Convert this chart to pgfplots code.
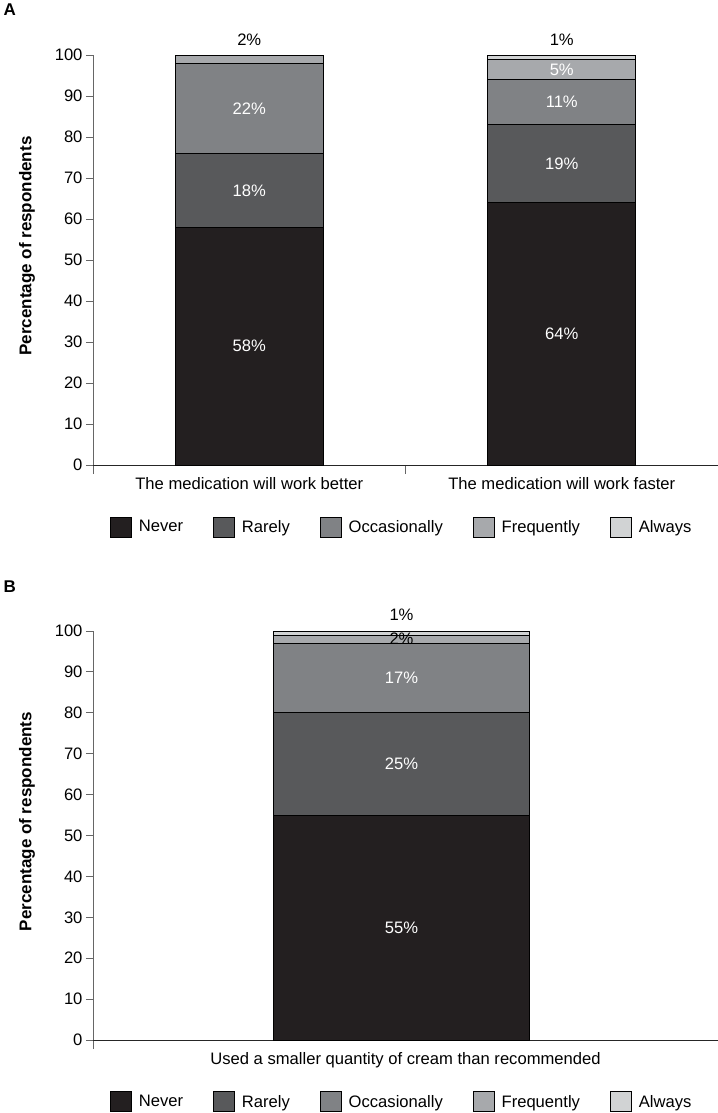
\documentclass[border=0pt]{standalone}
\usepackage{fontspec}
\setmainfont{Liberation Sans}
\usepackage{pgfplots}
\pgfplotsset{compat=1.18}

\definecolor{cnever}{HTML}{231F20}
\definecolor{crarely}{HTML}{58595B}
\definecolor{coccas}{HTML}{808285}
\definecolor{cfreq}{HTML}{A7A9AC}
\definecolor{calways}{HTML}{D1D3D4}

\newcommand{\sz}{\fontsize{16.6bp}{19bp}\selectfont}

\tikzset{
  vl/.style={font=\sz, text=white},
  vk/.style={font=\sz, text=black},
}

\pgfplotsset{
  panel/.style={
    scale only axis, width=625bp, height=410bp,
    ymin=0, ymax=100, ytick={0,10,...,100},
    ybar stacked,
    axis lines*=left,
    clip=false,
    tick align=outside,
    major tick length=7bp,
    minor tick length=9bp,
    ticklabel style={font=\sz},
    xticklabel style={yshift=-2bp},
    /pgf/number format/assume math mode=true,
    x axis line style={draw=black!85, line width=1bp},
    y axis line style={draw=black!60, line width=1bp},
    ytick style={draw=black!60, line width=1bp},
    major x tick style={draw=none},
    minor x tick style={draw=black!60, line width=1bp},
    ylabel={Percentage of respondents},
    ylabel style={font=\bfseries\fontsize{17bp}{20bp}\selectfont,
      at={(axis description cs:-0.1056,0.534)}, anchor=center},
    every axis plot/.append style={draw=black, line width=0.8bp},
    legend columns=5,
    legend image code/.code={\draw[##1] (0bp,-10bp) rectangle (21bp,10bp);
      \path (26bp,0bp);},
    legend style={draw=none, font=\sz, anchor=center,
      /tikz/every even column/.append style={column sep=28bp}},
  },
}

\begin{document}
\begin{tikzpicture}
\useasboundingbox (0,0) rectangle (718bp,-1113bp);

% Panel A
\begin{axis}[panel,
  at={(93bp,-465bp)}, anchor=south west,
  xmin=-0.5, xmax=1.5,
  xtick={0,1},
  xticklabels={The medication will work better, The medication will work faster},
  minor xtick={-0.5,0.5,1.5},
  bar width=148bp,
  legend style={at={(0.494,-0.151)}},
]
\addplot[fill=cnever] coordinates {(0,58) (1,64)};
\addplot[fill=crarely] coordinates {(0,18) (1,19)};
\addplot[fill=coccas] coordinates {(0,22) (1,11)};
\addplot[fill=cfreq] coordinates {(0,2) (1,5)};
\addplot[fill=calways] coordinates {(0,0) (1,1)};
\legend{Never, Rarely, Occasionally, Frequently, Always}
\coordinate (a1) at (axis cs:0,29);
\coordinate (a2) at (axis cs:0,67);
\coordinate (a3) at (axis cs:0,87);
\coordinate (a4) at (axis cs:0,103.7);
\coordinate (b1) at (axis cs:1,32);
\coordinate (b2) at (axis cs:1,73.5);
\coordinate (b3) at (axis cs:1,88.5);
\coordinate (b4) at (axis cs:1,96.5);
\coordinate (b5) at (axis cs:1,103.7);
\end{axis}
\node[vl] at (a1) {58\%};
\node[vl] at (a2) {18\%};
\node[vl] at (a3) {22\%};
\node[vk] at (a4) {2\%};
\node[vl] at (b1) {64\%};
\node[vl] at (b2) {19\%};
\node[vl] at (b3) {11\%};
\node[vl] at (b4) {5\%};
\node[vk] at (b5) {1\%};

% Panel B
\begin{axis}[panel,
  at={(93bp,-1040bp)}, anchor=south west,
  height=409bp,
  xmin=-0.5, xmax=0.5,
  xtick={0},
  xticklabels={Used a smaller quantity of cream than recommended},
  minor xtick={-0.5,0.5},
  bar width=256bp,
  bar shift=-4bp,
  legend style={at={(0.494,-0.151)}},
]
\addplot[fill=cnever] coordinates {(0,55)};
\addplot[fill=crarely] coordinates {(0,25)};
\addplot[fill=coccas] coordinates {(0,17)};
\addplot[fill=cfreq] coordinates {(0,2)};
\addplot[fill=calways] coordinates {(0,1)};
\legend{Never, Rarely, Occasionally, Frequently, Always}
\coordinate (c1) at (axis cs:0,27.5);
\coordinate (c2) at (axis cs:0,67.5);
\coordinate (c3) at (axis cs:0,88.5);
\coordinate (c4) at (axis cs:0,98);
\coordinate (c5) at (axis cs:0,104);
\end{axis}
\node[vl, xshift=-4bp] at (c1) {55\%};
\node[vl, xshift=-4bp] at (c2) {25\%};
\node[vl, xshift=-4bp] at (c3) {17\%};
\node[vk, xshift=-4bp] at (c4) {2\%};
\node[vk, xshift=-4bp] at (c5) {1\%};

\node[font=\bfseries\fontsize{17bp}{20bp}\selectfont, anchor=west] at (0bp,-10bp) {A};
\node[font=\bfseries\fontsize{17bp}{20bp}\selectfont, anchor=west] at (0bp,-587bp) {B};
\end{tikzpicture}
\end{document}
